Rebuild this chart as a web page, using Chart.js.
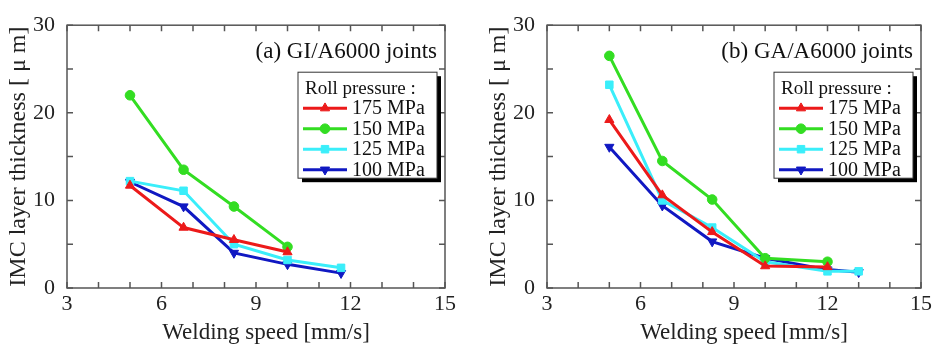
<!DOCTYPE html>
<html>
<head>
<meta charset="utf-8">
<script src="https://cdn.jsdelivr.net/npm/chart.js@4/dist/chart.umd.min.js"></script>
<style>
  html, body { margin: 0; padding: 0; background: #fff; }
  body { width: 935px; height: 344px; position: relative; overflow: hidden; }
  .panel { position: absolute; top: 0; height: 344px; }
  #pa { left: 0; width: 467px; }
  #pb { left: 467px; width: 468px; }
</style>
</head>
<body>
<div class="panel" id="pa"><canvas id="chartA" width="467" height="344"></canvas></div>
<div class="panel" id="pb"><canvas id="chartB" width="468" height="344"></canvas></div>
<script>
// ---- data ----
const SERIES = ['175 MPa', '150 MPa', '125 MPa', '100 MPa'];
const COLORS = ['#ec1a1a', '#33dd22', '#3aeefa', '#1018c2'];
const MARKERS = ['triangle', 'circle', 'rect', 'triangle'];
const ROTATION = [0, 0, 0, 180];

// (a) GI/A6000
const speedA = [5.0, 6.7, 8.3, 10.0, 11.7];
const a175 = [11.7, 6.9, 5.5, 4.1];
const a150 = [22.0, 13.5, 9.3, 4.7];
const a125 = [12.2, 11.1, 5.0, 3.2, 2.3];
const a100 = [12.1, 9.3, 4.0, 2.7, 1.7];

// (b) GA/A6000
const speedB = [5.0, 6.7, 8.3, 10.0, 12.0, 13.0];
const b175 = [19.2, 10.6, 6.4, 2.5, 2.4];
const b150 = [26.5, 14.5, 10.1, 3.4, 3.0];
const b125 = [23.2, 10.0, 6.9, 3.0, 1.9, 1.9];
const b100 = [16.1, 9.4, 5.3, 3.4, 2.1, 1.8];

const xTicks = [3, 6, 9, 12, 15];
const yTicks = [0, 10, 20, 30];

const FONT = "'Liberation Serif', 'DejaVu Serif', serif";

function pts(xs, ys) { return ys.map((v, i) => ({ x: xs[i], y: v })); }

// frame, inward ticks, x title, panel label and boxed legend
const decor = {
  id: 'decor',
  afterDatasetsDraw(chart, args, opts) {
    const c = chart.ctx, a = chart.chartArea;
    const sx = chart.scales.x, sy = chart.scales.y;
    c.save();
    c.strokeStyle = '#555';
    c.lineWidth = 1.5;
    c.strokeRect(a.left, a.top, a.right - a.left, a.bottom - a.top);
    c.beginPath();
    for (let v = 3; v <= 15; v++) {
      const px = sx.getPixelForValue(v);
      c.moveTo(px, a.bottom); c.lineTo(px, a.bottom - 6);
      c.moveTo(px, a.top); c.lineTo(px, a.top + 6);
    }
    for (let v = 0; v <= 30; v += 5) {
      const py = sy.getPixelForValue(v);
      c.moveTo(a.left, py); c.lineTo(a.left + 6, py);
      c.moveTo(a.right, py); c.lineTo(a.right - 6, py);
    }
    c.stroke();

    // x axis title (sits a little right of centre in the original)
    c.fillStyle = '#222';
    c.font = '23px ' + FONT;
    c.textAlign = 'center';
    c.textBaseline = 'middle';
    c.fillText('Welding speed [mm/s]', (a.left + a.right) / 2 + 10, 333);

    // panel label
    c.fillStyle = '#111';
    c.textAlign = 'right';
    c.fillText(opts.label, a.right - 8, a.top + 27);

    // legend box with shadow
    const bx = a.right - 147, by = a.top + 47, bw = 139, bh = 106;
    c.fillStyle = '#000';
    c.fillRect(bx + 4, by + 4, bw, bh);
    c.fillStyle = '#fff';
    c.fillRect(bx, by, bw, bh);
    c.strokeStyle = '#333';
    c.lineWidth = 1;
    c.strokeRect(bx, by, bw, bh);
    c.fillStyle = '#111';
    c.textAlign = 'left';
    c.font = '19px ' + FONT;
    c.fillText('Roll pressure :', bx + 7, by + 17);
    c.font = '20px ' + FONT;
    chart.data.datasets.forEach((ds, i) => {
      const ly = by + 36 + i * 20.5;
      c.strokeStyle = ds.borderColor;
      c.lineWidth = 3;
      c.beginPath(); c.moveTo(bx + 5, ly); c.lineTo(bx + 49, ly); c.stroke();
      c.fillStyle = ds.borderColor;
      c.lineWidth = 1;
      Chart.helpers.drawPoint(c, {
        pointStyle: ds.pointStyle, radius: ds.pointRadius, rotation: ds.pointRotation, borderWidth: 1
      }, bx + 27, ly);
      c.fillStyle = '#111';
      c.fillText(ds.label, bx + 54, ly + 1);
    });
    c.restore();
  }
};

function makeChart(id, label, xs, sets, leftPad, rightPad) {
  const datasets = sets.map((ys, i) => ({
    label: SERIES[i],
    data: pts(xs, ys),
    borderColor: COLORS[i],
    backgroundColor: COLORS[i],
    borderWidth: 3,
    pointStyle: MARKERS[i],
    pointRotation: ROTATION[i],
    pointRadius: MARKERS[i] === 'circle' ? 4.8 : 5.3,
    pointBorderWidth: 1,
    tension: 0
  }));
  return new Chart(document.getElementById(id), {
    type: 'line',
    data: { datasets },
    plugins: [decor],
    options: {
      responsive: false,
      animation: false,
      layout: { padding: { top: 16, right: rightPad, left: leftPad, bottom: 0 } },
      plugins: {
        legend: { display: false },
        tooltip: { enabled: false },
        decor: { label }
      },
      scales: {
        x: {
          type: 'linear', min: 3, max: 15,
          afterFit: s => { s.height = 56; },
          grid: { display: false, drawTicks: false },
          border: { display: false },
          ticks: {
            stepSize: 1, autoSkip: false, padding: 3, color: '#222',
            font: { family: FONT, size: 22 },
            callback: v => xTicks.includes(v) ? String(v) : ''
          }
        },
        y: {
          min: 0, max: 30,
          afterFit: s => { s.width = 67; },
          grid: { display: false, drawTicks: false },
          border: { display: false },
          ticks: {
            stepSize: 5, autoSkip: false, padding: 12, color: '#222',
            font: { family: FONT, size: 22 },
            callback: v => yTicks.includes(v) ? String(v) : ''
          },
          title: {
            display: true, text: 'IMC layer thickness [ μ m]', color: '#222',
            font: { family: FONT, size: 24, lineHeight: 1 }, padding: { top: 7, bottom: 0 }
          }
        }
      }
    }
  });
}

makeChart('chartA', '(a) GI/A6000 joints', speedA, [a175, a150, a125, a100], 0, 22);
makeChart('chartB', '(b) GA/A6000 joints', speedB, [b175, b150, b125, b100], 13, 10);
</script>
</body>
</html>
